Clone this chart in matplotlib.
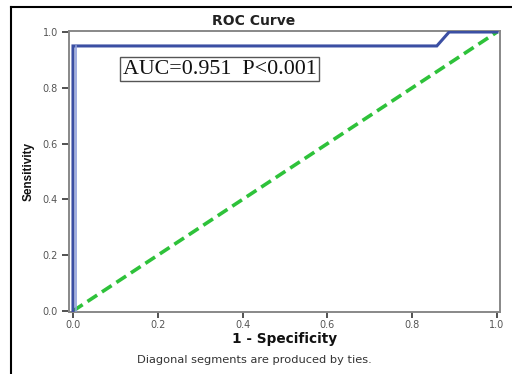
import matplotlib
matplotlib.use("Agg")
import matplotlib.pyplot as plt
from matplotlib.lines import Line2D

# Data
fpr = [0.0, 0.0, 0.858, 0.887, 1.0]
tpr = [0.0, 0.95, 0.95, 1.0, 1.0]
ref_x = [0.0, 1.0]
ref_y = [0.0, 1.0]
ticks = [0.0, 0.2, 0.4, 0.6, 0.8, 1.0]
tick_labels = ["0.0", "0.2", "0.4", "0.6", "0.8", "1.0"]
auc_text = "AUC=0.951  P<0.001"

plt.rcParams['font.family'] = ['DejaVu Sans']

fig = plt.figure(figsize=(5.12, 3.74), dpi=100)
fig.patch.set_facecolor('white')

ax = fig.add_axes([69/512, 1-312/374, (500-69)/512, (312-31)/374])
ax.set_xlim(-0.0094, 1.007)
ax.set_ylim(-0.0036, 1.0036)

ax.plot(ref_x, ref_y, color='#2ec23a', lw=2.6, dashes=(3.2, 1.6), zorder=2)
ax.plot(fpr, tpr, color='#3b4fa3', lw=2.2, zorder=3, solid_joinstyle='miter')
ax.plot([0.006, 0.006], [0.0, 0.95], color='#8fa0dc', lw=1.2, zorder=3)

for s in ax.spines.values():
    s.set_color('#888888')
    s.set_linewidth(1.4)

ax.set_xticks(ticks)
ax.set_xticklabels(tick_labels)
ax.set_yticks(ticks)
ax.set_yticklabels(tick_labels)
ax.tick_params(axis='both', direction='out', length=4, width=1.2, color='#333333',
               labelsize=7, labelcolor='#555555', pad=1.5)
ax.tick_params(axis='y', length=5, pad=3)

fig.text(254/512, 1-21/374, "ROC Curve", fontsize=10, fontweight='bold', color='#222222',
         ha='center', va='center')
ax.set_xlabel("1 - Specificity", fontsize=9.8, fontweight='bold', color='#111111', labelpad=2)
ax.set_ylabel("Sensitivity", fontsize=8.5, fontweight='bold', color='#111111', labelpad=6,
              family=['Liberation Sans Narrow', 'Liberation Sans', 'DejaVu Sans'])

ax.text(0.118, 0.833, auc_text, fontsize=15.8, family=['Liberation Serif', 'DejaVu Serif'],
        color='#111111', transform=ax.transData, va='bottom', ha='left',
        bbox=dict(boxstyle='square,pad=0.12', facecolor='white', edgecolor='#555555', lw=1.0),
        zorder=5)

fig.text(254/512, 1-360/374, "Diagonal segments are produced by ties.", fontsize=8.2,
         color='#333333', ha='center', va='center')

# document frame lines
fig.add_artist(Line2D([11/512, 11/512], [0, 1-7/374], color='black', lw=1.5,
                      transform=fig.transFigure))
fig.add_artist(Line2D([11/512, 1], [1-7/374, 1-7/374], color='black', lw=1.5,
                      transform=fig.transFigure))

fig.savefig("out.png", dpi=100)
